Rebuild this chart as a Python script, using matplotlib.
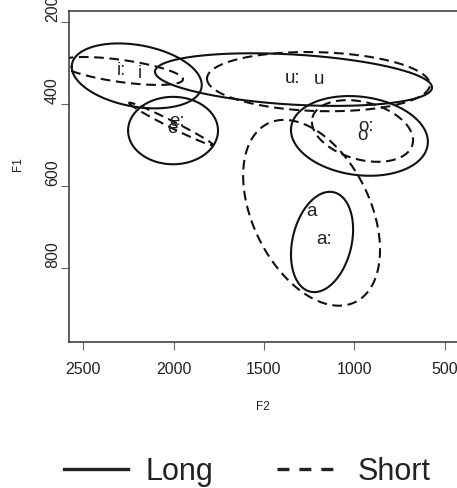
##################
# Vowel space: long vs short vowel ellipses
# in the F2/F1 plane (Hz), axes reversed.
##################
import numpy as np
import matplotlib.pyplot as plt

plt.rcParams['font.family'] = ['Liberation Sans', 'DejaVu Sans']
plt.rcParams['lines.scale_dashes'] = False

# long vowels: centre F2, centre F1, F2 half-range, F1 half-range, F2/F1 correlation
long_f2 = [2204, 2003, 1336, 971, 1178]
long_f1 = [332, 465, 341, 478, 736]
long_sf2 = [360, 249, 767, 379, 172]
long_sf1 = [79, 82, 64, 97, 122]
long_rho = [-0.28, 0.0, -0.3, -0.15, 0.25]

# short vowels
short_f2 = [2291, 2014, 1198, 954, 1236]
short_f1 = [320, 449, 346, 466, 665]
short_sf2 = [343, 233, 617, 280, 379]
short_sf1 = [34, 52, 72, 75, 226]
short_rho = [-0.6, -0.985, -0.1, -0.3, -0.4]

# vowel labels
label_long = ['i:', 'e:', 'u:', 'o:', 'a:']
label_long_f2 = [2286, 1981, 1344, 935, 1167]
label_long_f1 = [318, 442, 339, 456, 729]
label_short = ['i', 'e', 'u', 'o', 'a']
label_short_f2 = [2186, 2009, 1195, 957, 1234]
label_short_f1 = [325, 459, 342, 476, 663]

xticks = [2500, 2000, 1500, 1000, 500]
yticks = [200, 400, 600, 800]


def ellipse(cx, cy, sx, sy, rho, n=300):
	t = np.linspace(0, 2 * np.pi, n)
	d = np.arccos(rho)
	return cx + sx * np.cos(t), cy + sy * np.cos(t - d)


fig = plt.figure(figsize=(4.57, 4.88), dpi=100)
ax = fig.add_axes([0.151, 0.2986, 0.9007, 0.679])

for i in range(len(long_f2)):
	x, y = ellipse(long_f2[i], long_f1[i], long_sf2[i], long_sf1[i], long_rho[i])
	ax.plot(x, y, color='#111111', lw=1.5)
	x, y = ellipse(short_f2[i], short_f1[i], short_sf2[i], short_sf1[i], short_rho[i])
	ax.plot(x, y, color='#111111', lw=1.5, dashes=(7, 4))

for i in range(len(label_long)):
	ax.text(label_long_f2[i], label_long_f1[i], label_long[i], fontsize=13.5,
		color='#222222', ha='center', va='center')
	ax.text(label_short_f2[i], label_short_f1[i], label_short[i], fontsize=13.5,
		color='#222222', ha='center', va='center')

ax.set_xlim(2579, 300)
ax.set_ylim(980, 174)
ax.set_xticks(xticks)
ax.set_yticks(yticks)
ax.tick_params(which='both', direction='out', length=6, width=0.8, color='#666666',
	labelsize=11.5, labelcolor='#222222')
ax.tick_params(axis='x', pad=8)
ax.tick_params(axis='y', pad=0.5, labelrotation=90)
# labels start at the tick and run upwards
for lab in ax.get_yticklabels():
	lab.set_va('bottom')
for s in ax.spines.values():
	s.set_linewidth(1.1)
	s.set_color('#333333')

fig.text(18 / 457, 1 - 164 / 488, 'F1', fontsize=8.5, rotation=90,
	ha='center', va='center', color='#222222')
fig.text(263 / 457, 1 - 407 / 488, 'F2', fontsize=8.5,
	ha='center', va='center', color='#222222')

h1, = ax.plot([], [], color='#222222', lw=2.4)
h2, = ax.plot([], [], color='#222222', lw=2.4, dashes=(8.6, 7.2))
fig.legend([h1, h2], ['Long', 'Short'], loc='center', ncol=2,
	bbox_to_anchor=(0.5416, 1 - 472 / 488), frameon=False, fontsize=22,
	handlelength=2.1, handletextpad=0.55, columnspacing=2.1,
	labelcolor='#222222')

plt.savefig('out.png', dpi=100)
plt.close(fig)
